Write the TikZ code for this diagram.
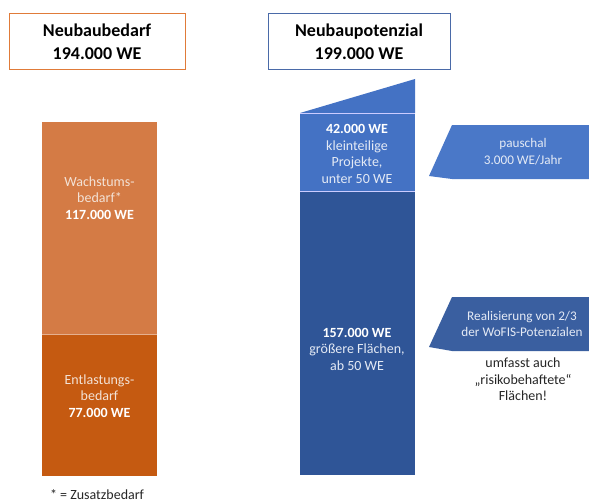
\documentclass[tikz,border=0pt]{standalone}
\usepackage{fontspec}
\setmainfont{Carlito}
\definecolor{orLine}{HTML}{E07B39}
\definecolor{blLine}{HTML}{4A6AA8}
\definecolor{orUp}{HTML}{D47B45}
\definecolor{orLow}{HTML}{C55A11}
\definecolor{blUp}{HTML}{4472C4}
\definecolor{blLow}{HTML}{2F5597}
\definecolor{arUp}{HTML}{4A78C8}
\definecolor{arLow}{HTML}{3A5FA0}
\definecolor{txtLight}{HTML}{F3E2D6}
\definecolor{txtBlue}{HTML}{E4EAF5}
\tikzset{
  titlebox/.style={draw, line width=1pt, fill=white, inner sep=0pt, outer sep=0pt, minimum height=56pt, align=center, font=\fontsize{18}{23}\selectfont\bfseries},
  barblock/.style={inner sep=0pt, outer sep=0pt, anchor=north west},
  bartext/.style={align=center, font=\fontsize{14}{16.5}\selectfont, inner sep=0pt},
  arrowtext/.style={align=center, font=\fontsize{13.2}{16.5}\selectfont, inner sep=0pt},
  notetext/.style={align=center, font=\fontsize{14}{16.5}\selectfont, text=black!85, inner sep=0pt},
  sepline/.style={draw=white!80!blue, line width=0.8pt}
}
\begin{document}
\begin{tikzpicture}[x=1pt,y=-1pt]
\useasboundingbox (0,0) rectangle (589,503);
% title boxes
\node[titlebox, draw=orLine, minimum width=176pt] (tl) at (97,42) {Neubaubedarf\\194.000 WE};
\node[titlebox, draw=blLine, minimum width=182pt] (tr) at (359,42) {Neubaupotenzial\\199.000 WE};
% left bar
\node[barblock, fill=orUp, minimum width=115pt, minimum height=212pt] (wb) at (42,122) {};
\node[barblock, fill=orLow, minimum width=115pt, minimum height=142pt] (eb) at (42,334) {};
\draw[draw=orUp!60!white, line width=0.8pt] (wb.south west) -- (wb.south east);
\node[bartext, text=txtLight] (wbt) at (99.5,198) {Wachstums-\\bedarf*\\\textbf{\color{white}117.000 WE}};
\node[bartext, text=txtLight] (ebt) at (99.5,396) {Entlastungs-\\bedarf\\\textbf{\color{white}77.000 WE}};
\node[notetext] (note) at (97,495) {* = Zusatzbedarf};
% right bar
\fill[blUp] (300,113) -- (415,79) -- (415,113) -- cycle;
\node[barblock, fill=blUp, minimum width=115pt, minimum height=78pt] (kb) at (300,113) {};
\node[barblock, fill=blLow, minimum width=115pt, minimum height=284pt] (gb) at (300,191) {};
\draw[sepline] (kb.north west) -- (kb.north east);
\draw[sepline] (kb.south west) -- (kb.south east);
\node[bartext, text=txtBlue] (kbt) at (357,154) {\textbf{\color{white}42.000 WE}\\kleinteilige\\Projekte,\\unter 50 WE};
\node[bartext, text=txtBlue] (gbt) at (357,349) {\textbf{\color{white}157.000 WE}\\größere Flächen,\\ab 50 WE};
% arrow shapes
\fill[arUp] (452,125) -- (589,125) -- (589,179) -- (452,179) -- (429,176) -- cycle;
\node[arrowtext, text=txtBlue] (pa) at (523,151.5) {pauschal\\3.000 WE/Jahr};
\fill[arLow] (452,297) -- (589,297) -- (589,351) -- (452,351) -- (429,347) -- cycle;
\node[arrowtext, text=txtBlue] (ra) at (522,324) {Realisierung von 2/3\\der WoFIS-Potenzialen};
\node[notetext] (um) at (523,379.5) {umfasst auch\\„risikobehaftete“\\Flächen!};
\end{tikzpicture}
\end{document}
